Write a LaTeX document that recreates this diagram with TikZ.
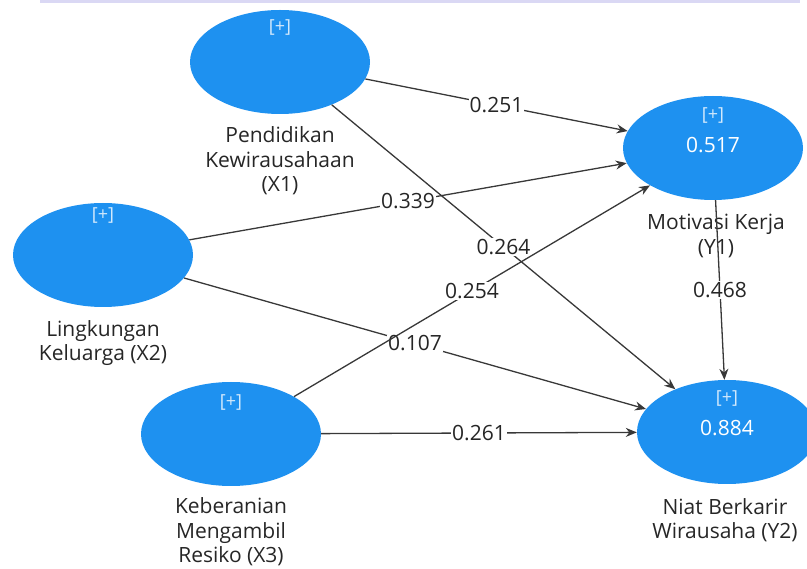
\documentclass[tikz,border=0pt]{standalone}
\usepackage{fontspec}
\setmainfont{Open Sans}
\usetikzlibrary{shapes.geometric,arrows.meta}
\definecolor{lvblue}{RGB}{30,145,240}
\definecolor{stripc}{RGB}{218,216,244}

\begin{document}
\begin{tikzpicture}[x=1pt,y=-1pt,
  lv/.style={ellipse,fill=lvblue,minimum width=180pt,minimum height=104pt,inner sep=0pt},
  plus/.style={text=white!80!lvblue,font=\fontsize{18}{20}\selectfont},
  rsq/.style={text=white,font=\fontsize{21}{24}\selectfont},
  lvname/.style={align=center,text=black!85,font=\fontsize{21}{24.5}\selectfont},
  link/.style={draw=black!78,line width=1.3pt,-{Stealth[length=11pt,width=9pt]}},
  coef/.style={fill=white,inner sep=1pt,text=black!85,font=\fontsize{21}{24}\selectfont}]
  \useasboundingbox (0,0) rectangle (807,569);
  \fill[stripc] (40,0) rectangle (800,3);

  % latent variables
  \node[lv] (x1) at (280,62) {};
  \node[lv] (x2) at (103,255) {};
  \node[lv] (x3) at (231,434) {};
  \node[lv] (y1) at (713,148) {};
  \node[lv] (y2) at (727,432) {};

  \node[plus] (x1p) at (280,28) {[+]};
  \node[plus] (x2p) at (103,216) {[+]};
  \node[plus] (x3p) at (231,402) {[+]};
  \node[plus] (y1p) at (713,116) {[+]};
  \node[rsq] (y1r) at (713,145) {0.517};
  \node[plus] (y2p) at (727,398) {[+]};
  \node[rsq] (y2r) at (727,428) {0.884};

  % names
  \node[lvname] (x1n) at (280,161) {Pendidikan\\Kewirausahaan\\(X1)};
  \node[lvname] (x2n) at (103,343) {Lingkungan\\Keluarga (X2)};
  \node[lvname] (x3n) at (231,532) {Keberanian\\Mengambil\\Resiko (X3)};
  \node[lvname] (y1n) at (716,236) {Motivasi Kerja\\(Y1)};
  \node[lvname] (y2n) at (725,520) {Niat Berkarir\\Wirausaha (Y2)};

  % paths
  \draw[link] (x1) -- node[coef] {0.251} (y1);
  \draw[link] (x1) -- node[coef] {0.264} (y2);
  \draw[link] (x2) -- node[coef] {0.339} (y1);
  \draw[link] (x2) -- node[coef] {0.107} (y2);
  \draw[link] (x3) -- node[coef] {0.254} (y1);
  \draw[link] (x3) -- node[coef] {0.261} (y2);
  \draw[link] (y1) -- node[coef] {0.468} (y2);
\end{tikzpicture}
\end{document}
